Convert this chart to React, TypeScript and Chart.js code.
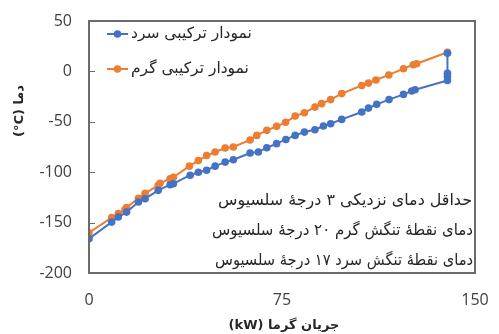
import React, { useEffect, useRef } from 'react';
import { Chart, registerables } from 'chart.js';

Chart.register(...registerables);

// Hot composite curve (orange)
const hotX = [0, 8.8, 11.4, 14, 14.6, 19.2, 21.8, 26.9, 27.6, 31.5, 32.8, 39, 42.5, 45.7, 49, 52.9, 56.1, 62.6, 65.2, 69.1, 72.9, 76.4, 80.1, 83.7, 87.8, 90.4, 93.9, 98.2, 106, 108.6, 111.5, 116.5, 122.2, 126, 127.3, 139.3];
const hotY = [-160, -145, -141, -137, -135, -126, -121, -113, -111, -106.5, -105, -94, -88.5, -83.5, -80, -76, -75, -68, -63.5, -58.5, -54.5, -50.5, -44.3, -41, -35.4, -32, -28, -22, -14, -11.6, -8.5, -3.5, 2.7, 6.6, 7.6, 19];

// Cold composite curve (blue)
const coldX = [0, 8.8, 11.4, 14.6, 19.2, 21.8, 26.9, 31.5, 32.8, 39.3, 42.5, 45.7, 49, 52.9, 56.1, 62.6, 65.8, 69.1, 72.9, 76.5, 80.1, 83.7, 87.8, 91.1, 93.9, 98.2, 106, 108.6, 111.8, 116.6, 122.2, 125.4, 126.7, 139.3, 139.3, 139.3, 139.3];
const coldY = [-166, -149.5, -144.5, -139.6, -129.6, -126.3, -118, -112.4, -111.4, -103, -100, -98, -94, -90, -87.6, -81, -80, -75.7, -71.7, -67.5, -63.5, -60.2, -57.9, -54.2, -51.9, -47.6, -40.3, -36.4, -32.7, -28, -22.8, -19.5, -18.2, -9, -5, -2, 18];

const xTicks = [0, 75, 150];
const yTicks = [50, 0, -50, -100, -150, -200];
const seriesNames = ['نمودار ترکیبی سرد', 'نمودار ترکیبی گرم'];
const seriesColors = ['#4472C4', '#ED7D31'];
const notes = [
  'حداقل دمای نزدیکی ۳ درجهٔ سلسیوس',
  'دمای نقطهٔ تنگش گرم ۲۰ درجهٔ سلسیوس',
  'دمای نقطهٔ تنگش سرد ۱۷ درجهٔ سلسیوس',
];
const xTitle = 'جریان گرما (kW)';
const yTitle = 'دما \u200E(°C)\u200E';

const toPts = (xs: number[], ys: number[]) => xs.map((x, i) => ({ x, y: ys[i] }));

const zeroPad = (s: any) => {
  s.paddingTop = 0;
  s.paddingBottom = 0;
  s.paddingLeft = 0;
  s.paddingRight = 0;
};

const decor = {
  id: 'decor',
  afterDraw(chart: any) {
    const { ctx, chartArea: a, scales } = chart;
    const ys = scales.y;
    ctx.save();
    // plot border
    ctx.strokeStyle = '#6b6b6b';
    ctx.lineWidth = 2;
    ctx.strokeRect(a.left, a.top, a.right - a.left, a.bottom - a.top);
    // y tick marks (inside)
    ctx.lineWidth = 1;
    yTicks.forEach((v) => {
      const y = Math.round(ys.getPixelForValue(v)) + 0.5;
      ctx.beginPath();
      ctx.moveTo(a.left, y);
      ctx.lineTo(a.left + 6, y);
      ctx.stroke();
    });
    // legend
    const legendY = [34, 69];
    ctx.font = '15.5px "DejaVu Sans"';
    ctx.textBaseline = 'middle';
    seriesNames.forEach((name, i) => {
      const y = legendY[i];
      ctx.strokeStyle = seriesColors[i];
      ctx.lineWidth = 2;
      ctx.beginPath();
      ctx.moveTo(107, y);
      ctx.lineTo(128, y);
      ctx.stroke();
      ctx.fillStyle = seriesColors[i];
      ctx.beginPath();
      ctx.arc(117.5, y, 3.8, 0, Math.PI * 2);
      ctx.fill();
      ctx.fillStyle = '#262626';
      ctx.direction = 'rtl';
      ctx.textAlign = 'right';
      ctx.fillText(name, 131 + ctx.measureText(name).width, y);
    });
    // notes
    ctx.font = '16px "DejaVu Sans"';
    ctx.fillStyle = '#262626';
    ctx.direction = 'rtl';
    ctx.textAlign = 'right';
    const noteY = [201, 231, 261];
    const noteRight = [472, 473, 473];
    const noteWidth = [254, 261, 258];
    notes.forEach((t, i) => ctx.fillText(t, noteRight[i], noteY[i], noteWidth[i]));
    // axis titles
    ctx.font = 'bold 13px "DejaVu Sans"';
    ctx.fillStyle = '#262626';
    ctx.textAlign = 'center';
    ctx.fillText(xTitle, 284, 326);
    ctx.translate(20, 111);
    ctx.rotate(-Math.PI / 2);
    ctx.fillText(yTitle, 0, 0);
    ctx.restore();
  },
};

export default function App() {
  const ref = useRef<HTMLCanvasElement>(null);
  useEffect(() => {
    document.body.style.margin = '0';
    const chart = new Chart(ref.current as HTMLCanvasElement, {
      type: 'scatter',
      data: {
        datasets: [
          {
            label: seriesNames[0],
            data: toPts(coldX, coldY),
            showLine: true,
            borderColor: seriesColors[0],
            backgroundColor: seriesColors[0],
            borderWidth: 2,
            pointRadius: 3.8,
            pointBorderWidth: 0,
          },
          {
            label: seriesNames[1],
            data: toPts(hotX, hotY),
            showLine: true,
            borderColor: seriesColors[1],
            backgroundColor: seriesColors[1],
            borderWidth: 2,
            pointRadius: 3.8,
            pointBorderWidth: 0,
          },
        ],
      },
      options: {
        responsive: false,
        animation: false,
        layout: { padding: { top: 21, right: 24, left: 0, bottom: 0 } },
        plugins: { legend: { display: false }, tooltip: { enabled: false } },
        scales: {
          x: {
            type: 'linear',
            min: 0,
            max: 150,
            afterBuildTicks: (s: any) => { s.ticks = xTicks.map((v) => ({ value: v })); },
            afterFit: (s: any) => { s.height = 61; zeroPad(s); },
            ticks: { font: { size: 16, family: '"Open Sans"' }, color: '#404040', padding: 18 },
            grid: { display: false, drawTicks: false },
            border: { display: false },
          },
          y: {
            type: 'linear',
            min: -200,
            max: 50,
            afterBuildTicks: (s: any) => { s.ticks = yTicks.map((v) => ({ value: v })); },
            afterFit: (s: any) => { s.width = 89; zeroPad(s); },
            ticks: { font: { size: 16, family: '"Open Sans"' }, color: '#404040', padding: 17 },
            grid: { display: false, drawTicks: false },
            border: { display: false },
          },
        },
      },
      plugins: [decor],
    });
    return () => chart.destroy();
  }, []);
  return <canvas ref={ref} width={499} height={334} />;
}
